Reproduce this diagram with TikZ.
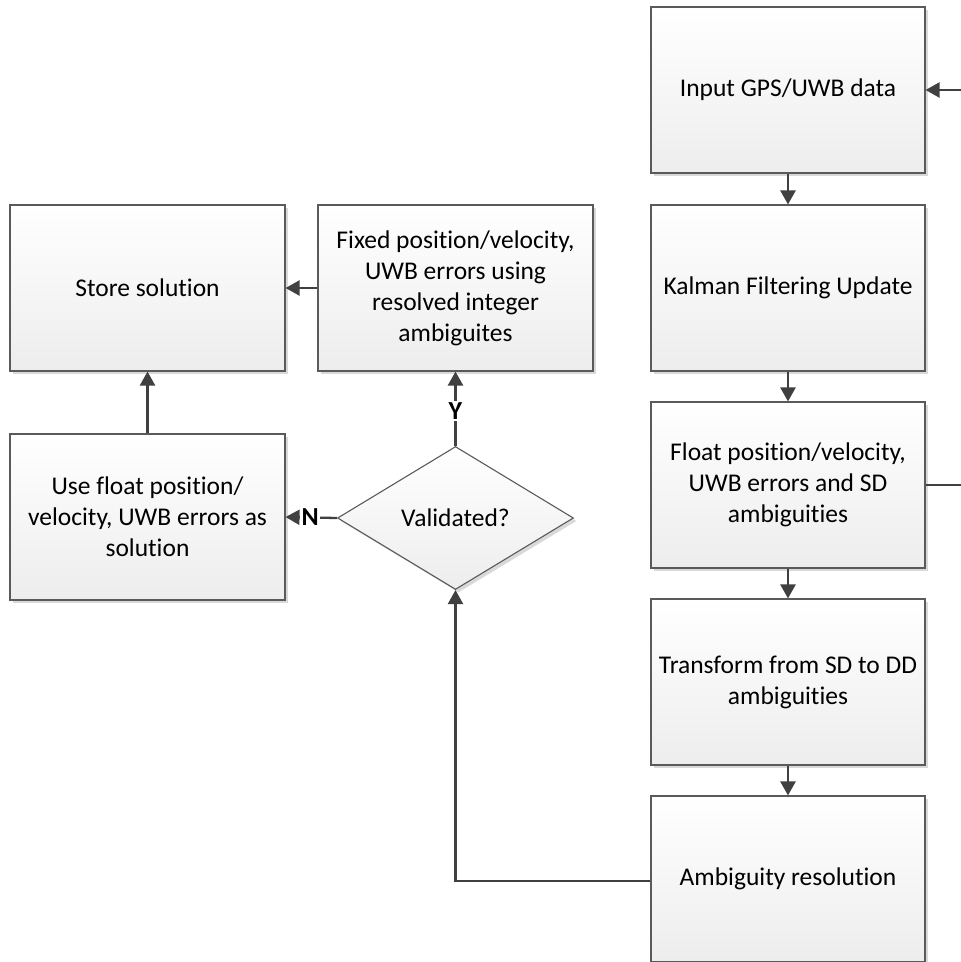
\documentclass[tikz,border=0pt]{standalone}
\usepackage{fontspec}
\setmainfont{Carlito}[Ligatures=NoCommon]
\usetikzlibrary{shapes.geometric,arrows.meta,shadows}
\definecolor{boxline}{HTML}{5A5A5A}
\definecolor{arrowc}{HTML}{404040}
\definecolor{boxbot}{HTML}{EDEDED}
\begin{document}
\begin{tikzpicture}[x=1pt,y=-1pt,
  procbox/.style={draw=boxline, line width=1.1pt, top color=white, bottom color=boxbot,
    minimum width=274pt, minimum height=166pt, inner sep=0pt, align=center,
    font=\fontsize{25.5}{31}\selectfont,
    drop shadow={shadow xshift=3pt, shadow yshift=-3pt, fill=black!15, opacity=1}},
  decbox/.style={draw=boxline, line width=1.1pt, shape=diamond, top color=white, bottom color=boxbot,
    minimum width=236pt, minimum height=143pt, inner sep=0pt, aspect=1.65,
    font=\fontsize{25.5}{31}\selectfont,
    drop shadow={shadow xshift=3pt, shadow yshift=-3pt, fill=black!15, opacity=1}},
  conn/.style={draw=arrowc, line width=2.3pt, -{Triangle[length=14pt,width=15pt]}},
  plainconn/.style={draw=arrowc, line width=2.3pt},
  yn/.style={fill=white, inner xsep=1.5pt, inner ysep=2pt, text height=16.5pt, text depth=0pt,
    font=\fontsize{26}{28}\selectfont\bfseries}
]
\useasboundingbox (0,0) rectangle (961,962);
\node[procbox] (inp) at (788,90) {Input GPS/UWB data};
\node[procbox] (kal) at (788,288) {Kalman Filtering Update};
\node[procbox] (flt) at (788,485) {Float position/velocity,\\UWB errors and SD\\ambiguities};
\node[procbox] (trf) at (788,682) {Transform from SD to DD\\ambiguities};
\node[procbox] (amb) at (788,879) {Ambiguity resolution};
\node[procbox, minimum width=275pt] (sto) at (147.5,288) {Store solution};
\node[procbox, minimum width=275pt] (fix) at (455.5,288) {Fixed position/velocity,\\UWB errors using\\resolved integer\\ambiguites};
\node[procbox, minimum width=275pt] (use) at (147.5,517) {Use float position/\\velocity, UWB errors as\\solution};
\node[decbox] (val) at (455.5,518) {Validated?};
\coordinate (inR) at (961,90);
\coordinate (fltR) at (961,485);
\coordinate (corner) at (455.5,881);

\draw[conn] (inR) -- (inp.east);
\draw[plainconn] (flt.east) -- (fltR);
\draw[conn] (inp) -- (kal);
\draw[conn] (kal) -- (flt);
\draw[conn] (flt) -- (trf);
\draw[conn] (trf) -- (amb);
\draw[conn] (amb.west |- corner) -- (corner) -- (val.south);
\draw[conn] (val.north) -- node[yn, pos=0.47] {Y} (fix.south);
\draw[conn] (val.west) -- node[yn, pos=0.52] {N} (use.east);
\draw[conn] (fix.west) -- (sto.east);
\draw[conn] (use.north) -- (sto.south);
\end{tikzpicture}
\end{document}
